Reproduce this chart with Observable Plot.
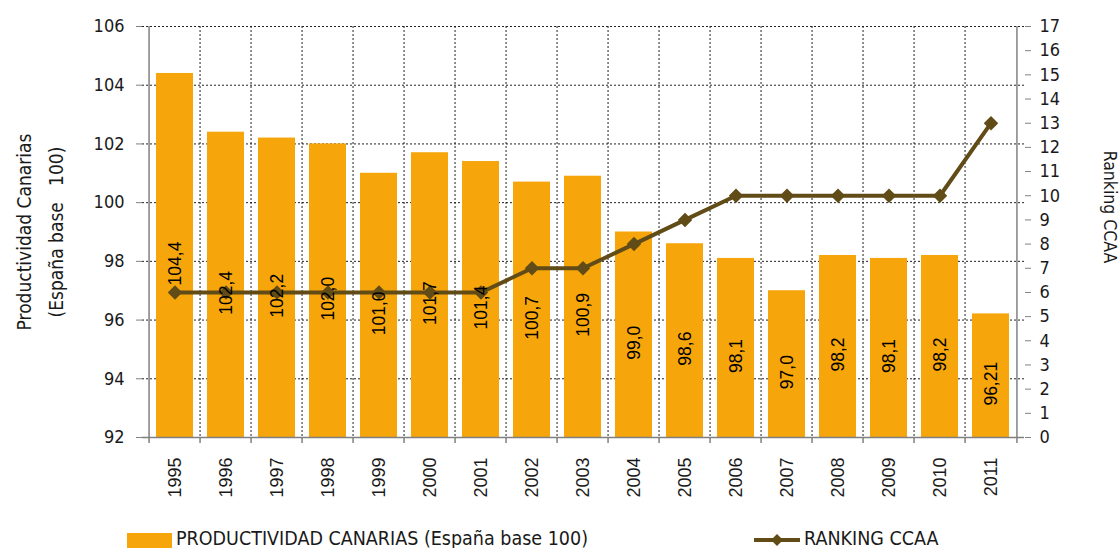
<!DOCTYPE html>
<html>
<head>
<meta charset="utf-8">
<script src="https://cdn.jsdelivr.net/npm/d3@7"></script>
<script src="https://cdn.jsdelivr.net/npm/@observablehq/plot@0.6"></script>
<style>
  html, body { margin: 0; padding: 0; background: #fff; }
  #chart { position: relative; width: 1119px; }
  #legend { position: relative; width: 1119px; height: 33px; font-family: "DejaVu Sans Condensed", "DejaVu Sans", sans-serif; font-size: 19.5px; color: #1a1a1a; }
  .sw { position: absolute; }
  .lt { position: absolute; top: 13px; line-height: 22px; white-space: pre; }
</style>
</head>
<body>
<div id="chart"></div>
<div id="legend">
  <div class="sw" style="left:127px; top:18px; width:45px; height:15px; background:#F6A50B;"></div>
  <div class="lt" style="left:176px;">PRODUCTIVIDAD CANARIAS (España base 100)</div>
  <svg class="sw" style="left:754px; top:17px;" width="46" height="16">
    <line x1="0" y1="8" x2="46" y2="8" stroke="#614B16" stroke-width="4"></line>
    <path d="M23,2 L29,8 L23,14 L17,8 Z" fill="#614B16"></path>
  </svg>
  <div class="lt" style="left:804px;">RANKING CCAA</div>
</div>
<script>
const years = ["1995","1996","1997","1998","1999","2000","2001","2002","2003","2004","2005","2006","2007","2008","2009","2010","2011"];
const productividad = [104.4,102.4,102.2,102.0,101.0,101.7,101.4,100.7,100.9,99.0,98.6,98.1,97.0,98.2,98.1,98.2,96.21];
const etiquetas = ["104,4","102,4","102,2","102,0","101,0","101,7","101,4","100,7","100,9","99,0","98,6","98,1","97,0","98,2","98,1","98,2","96,21"];
const ranking = [6,6,6,6,6,6,6,7,7,8,9,10,10,10,10,10,13];
const leftTicks = [92,94,96,98,100,102,104,106];
const rightTicks = d3.range(0, 18);

const yMin = 92, yMax = 106, rMax = 17;
const rankToY = r => yMin + r * (yMax - yMin) / rMax;

const data = years.map((y, i) => ({year: y, value: productividad[i], label: etiquetas[i], rank: ranking[i]}));

const W = 1119, mL = 142, mR = 95, mT = 26, mB = 78, H = 515;
const step = (W - mL - mR) / years.length;
const pad = 0.27;

const barColor = "#F6A50B";
const lineColor = "#614B16";
const axisFont = "'DejaVu Sans Condensed', 'DejaVu Sans', sans-serif";
const arial = "'Liberation Sans', Arial, sans-serif";

const chart = Plot.plot({
  width: W, height: H,
  marginLeft: mL, marginRight: mR, marginTop: mT, marginBottom: mB,
  style: {background: "#fff", color: "#1a1a1a", overflow: "visible"},
  x: {type: "band", domain: years, paddingInner: pad, paddingOuter: pad / 2, axis: null},
  y: {domain: [yMin, yMax], axis: null},
  marks: [
    Plot.ruleY(leftTicks.slice(1), {stroke: "#222", strokeDasharray: "2,2", strokeWidth: 1}),
    Plot.ruleX(years.slice(1), {x: d => d, dx: -step / 2, stroke: "#222", strokeDasharray: "2,2", strokeWidth: 1}),
    Plot.barY(data, {x: "year", y1: yMin, y2: "value", fill: barColor}),
    Plot.ruleY([yMin], {stroke: "#808080", strokeWidth: 1.5}),
    Plot.ruleX([years[0]], {dx: -step / 2, stroke: "#808080", strokeWidth: 1.5}),
    Plot.ruleX([years[years.length - 1]], {dx: step / 2, stroke: "#808080", strokeWidth: 1.5}),
    Plot.ruleX(years, {x: d => d, dx: -step / 2, y1: yMin, y2: yMin, insetBottom: -6, stroke: "#808080", strokeWidth: 1.5}),
    Plot.ruleX([years[years.length - 1]], {dx: step / 2, y1: yMin, y2: yMin, insetBottom: -6, stroke: "#808080", strokeWidth: 1.5}),
    Plot.line(data, {x: "year", y: d => rankToY(d.rank), stroke: lineColor, strokeWidth: 4}),
    Plot.dot(data, {x: "year", y: d => rankToY(d.rank), symbol: "diamond2", r: 6.5, fill: lineColor, stroke: "none"}),
    Plot.text(data, {x: "year", y: d => (d.value + yMin) / 2, dy: 8, text: "label", rotate: -90, fontSize: 17.5, fontFamily: arial, fill: "#000"}),
    Plot.axisY(leftTicks, {anchor: "left", tickSize: 6, tickPadding: 12, fontSize: 18, fontFamily: axisFont, stroke: "#808080", label: null}),
    Plot.axisY(rightTicks.map(rankToY), {anchor: "right", tickSize: 6, tickPadding: 9, fontSize: 18, fontFamily: axisFont, stroke: "#808080", tickFormat: d => String(Math.round((d - yMin) * rMax / (yMax - yMin))), label: null}),
    Plot.axisX({tickRotate: -90, tickSize: 0, tickPadding: 20, fontSize: 18, fontFamily: arial, label: null}),
    Plot.text(["Productividad Canarias\n(España base   100)"], {frameAnchor: "left", textAnchor: "middle", lineAnchor: "middle", rotate: -90, dx: -106, lineHeight: 1.7, fontSize: 19, fontFamily: axisFont, fill: "#1a1a1a"}),
    Plot.text(["Ranking CCAA"], {frameAnchor: "right", textAnchor: "middle", lineAnchor: "middle", rotate: 90, dx: 85, dy: -25, fontSize: 17.5, fontFamily: axisFont, fill: "#1a1a1a"})
  ]
});
document.getElementById("chart").appendChild(chart);
</script>
</body>
</html>
